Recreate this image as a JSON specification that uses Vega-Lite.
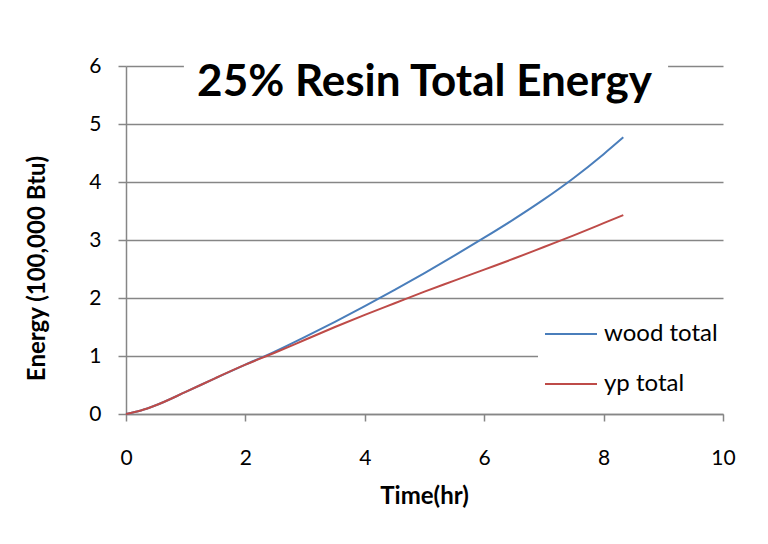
{
  "$schema": "https://vega.github.io/schema/vega-lite/v6.json",
  "width": 597,
  "height": 348,
  "padding": {"left": 126, "top": 66, "right": 45, "bottom": 130},
  "autosize": {"type": "none"},
  "background": "white",
  "title": {
    "text": "25% Resin Total Energy",
    "font": "Lato",
    "fontSize": 44,
    "fontWeight": "bold",
    "color": "black",
    "anchor": "middle",
    "frame": "group",
    "baseline": "alphabetic",
    "offset": 0,
    "dy": 85
  },
  "config": {
    "view": {"stroke": null},
    "axis": {
      "labelFont": "Lato",
      "labelFontSize": 21,
      "labelColor": "black",
      "titleFont": "Lato",
      "titleFontSize": 24,
      "titleFontWeight": "bold",
      "titleColor": "black",
      "domainColor": "#868686",
      "domainWidth": 1.5,
      "tickColor": "#868686",
      "tickWidth": 1.5,
      "gridColor": "#868686",
      "gridWidth": 1.5
    },
    "legend": {
      "labelFont": "Lato",
      "labelFontSize": 24,
      "labelColor": "black"
    }
  },
  "layer": [
    {
      "data": {
        "values": [
          {"time": 0, "energy": 0, "series": "wood total"},
          {"time": 0.25, "energy": 0.06, "series": "wood total"},
          {"time": 0.5, "energy": 0.15, "series": "wood total"},
          {"time": 1, "energy": 0.38, "series": "wood total"},
          {"time": 1.5, "energy": 0.62, "series": "wood total"},
          {"time": 2, "energy": 0.85, "series": "wood total"},
          {"time": 2.5, "energy": 1.08, "series": "wood total"},
          {"time": 3, "energy": 1.33, "series": "wood total"},
          {"time": 3.5, "energy": 1.59, "series": "wood total"},
          {"time": 4, "energy": 1.86, "series": "wood total"},
          {"time": 4.5, "energy": 2.14, "series": "wood total"},
          {"time": 5, "energy": 2.43, "series": "wood total"},
          {"time": 5.5, "energy": 2.73, "series": "wood total"},
          {"time": 6, "energy": 3.04, "series": "wood total"},
          {"time": 6.5, "energy": 3.36, "series": "wood total"},
          {"time": 7, "energy": 3.70, "series": "wood total"},
          {"time": 7.5, "energy": 4.07, "series": "wood total"},
          {"time": 8, "energy": 4.48, "series": "wood total"},
          {"time": 8.33, "energy": 4.77, "series": "wood total"},
          {"time": 0, "energy": 0, "series": "yp total"},
          {"time": 0.25, "energy": 0.06, "series": "yp total"},
          {"time": 0.5, "energy": 0.15, "series": "yp total"},
          {"time": 1, "energy": 0.38, "series": "yp total"},
          {"time": 1.5, "energy": 0.62, "series": "yp total"},
          {"time": 2, "energy": 0.85, "series": "yp total"},
          {"time": 2.5, "energy": 1.06, "series": "yp total"},
          {"time": 3, "energy": 1.28, "series": "yp total"},
          {"time": 3.5, "energy": 1.5, "series": "yp total"},
          {"time": 4, "energy": 1.71, "series": "yp total"},
          {"time": 4.5, "energy": 1.91, "series": "yp total"},
          {"time": 5, "energy": 2.11, "series": "yp total"},
          {"time": 5.5, "energy": 2.3, "series": "yp total"},
          {"time": 6, "energy": 2.49, "series": "yp total"},
          {"time": 6.5, "energy": 2.68, "series": "yp total"},
          {"time": 7, "energy": 2.88, "series": "yp total"},
          {"time": 7.5, "energy": 3.08, "series": "yp total"},
          {"time": 8, "energy": 3.29, "series": "yp total"},
          {"time": 8.33, "energy": 3.43, "series": "yp total"}
        ]
      },
      "mark": {"type": "line", "strokeWidth": 2, "interpolate": "monotone"},
      "encoding": {
        "x": {
          "field": "time",
          "type": "quantitative",
          "scale": {"domain": [0, 10], "nice": false},
          "axis": {
            "title": "Time(hr)",
            "values": [0, 2, 4, 6, 8, 10],
            "format": "d",
            "grid": false,
            "labelFlush": false,
            "tickSize": 7,
            "labelPadding": 26,
            "labelBaseline": "top",
            "titleX": 298,
            "titleY": 89,
            "titleAlign": "center",
            "titleBaseline": "alphabetic"
          }
        },
        "y": {
          "field": "energy",
          "type": "quantitative",
          "scale": {"domain": [0, 6], "nice": false},
          "axis": {
            "title": "Energy (100,000 Btu)",
            "values": [0, 1, 2, 3, 4, 5, 6],
            "format": "d",
            "labelFlush": false,
            "tickSize": 8,
            "labelPadding": 17,
            "titleX": -89,
            "titleY": 202,
            "titleAlign": "center",
            "titleBaseline": "middle",
            "titleAngle": -90
          }
        },
        "color": {
          "field": "series",
          "type": "nominal",
          "scale": {"domain": ["wood total", "yp total"], "range": ["#4a7ebb", "#be4b48"]},
          "legend": {
            "title": null,
            "orient": "none",
            "legendX": 412,
            "legendY": 235,
            "fillColor": "white",
            "padding": 6,
            "rowPadding": 11,
            "labelOffset": 6,
            "symbolType": "stroke",
            "symbolSize": 2704,
            "symbolStrokeWidth": 2
          }
        }
      }
    },
    {
      "data": {"values": [{}]},
      "mark": {"type": "rect", "color": "white"},
      "encoding": {
        "x": {"datum": 0.97, "type": "quantitative"},
        "x2": {"datum": 9.08},
        "y": {"datum": 5.85, "type": "quantitative"},
        "y2": {"datum": 6.15}
      }
    }
  ]
}
